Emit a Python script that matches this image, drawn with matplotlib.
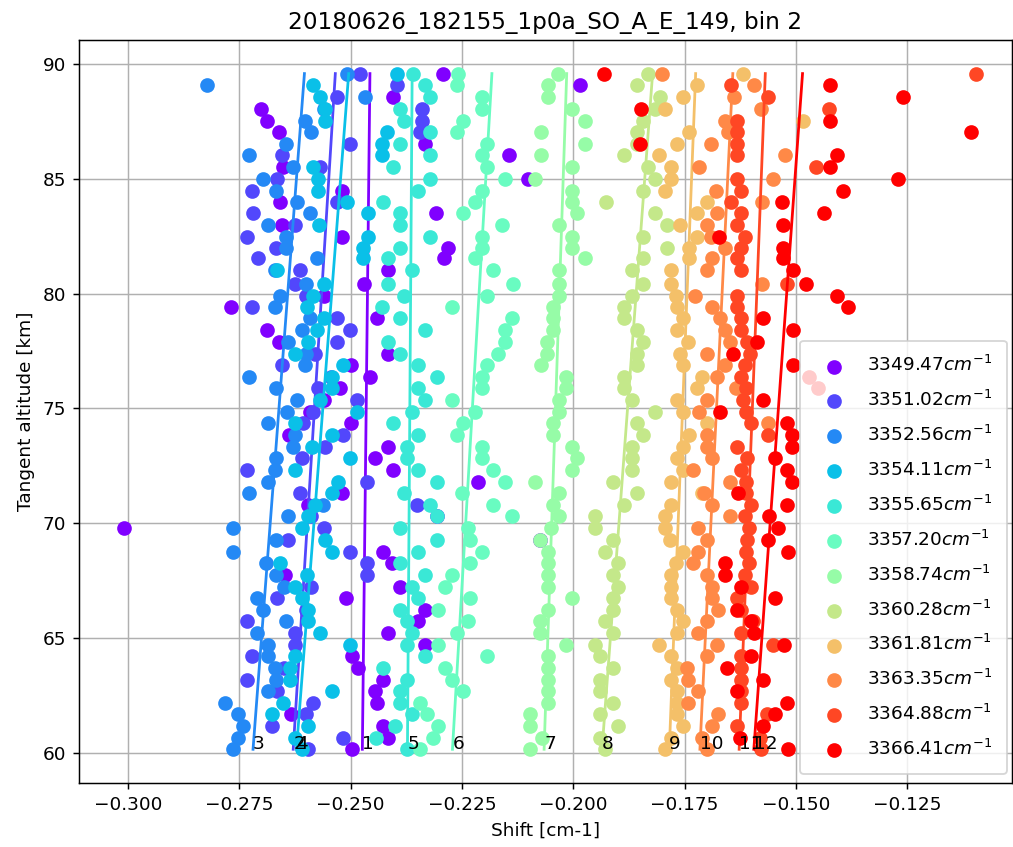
import numpy as np
import matplotlib
matplotlib.use("Agg")
import matplotlib.pyplot as plt

title = "20180626_182155_1p0a_SO_A_E_149, bin 2"

# tangent altitudes [km], shared by every absorption line
altitude = [89.57, 89.07, 88.57, 88.03, 87.52, 87.04, 86.52, 86.01, 85.50, 85.00,
            84.45, 83.98, 83.49, 82.99, 82.48, 81.98, 81.55, 81.02, 80.42, 79.91,
            79.42, 78.92, 78.40, 77.90, 77.39, 76.89, 76.38, 75.88, 75.37, 74.86,
            74.36, 73.85, 73.34, 72.83, 72.33, 71.82, 71.31, 70.80, 70.30, 69.79,
            69.28, 68.77, 68.27, 67.76, 67.25, 66.75, 66.24, 65.73, 65.23, 64.72,
            64.22, 63.71, 63.20, 62.70, 62.19, 61.69, 61.18, 60.68, 60.17]

wavenumbers = [3349.47, 3351.02, 3352.56, 3354.11, 3355.65, 3357.20,
               3358.74, 3360.28, 3361.81, 3363.35, 3364.88, 3366.41]

# fitted line shift [cm-1] per altitude, one list per absorption line
shift_1 = [-0.2293, -0.1985, -0.2405, -0.2701, -0.2688, -0.2661, -0.2333, -0.2144, -0.2652, -0.2102,
           -0.2520, -0.2659, -0.2308, -0.2655, -0.2520, -0.2281, -0.2290, -0.2416, -0.2470, -0.2560,
           -0.2769, -0.2440, -0.2688, -0.2661, -0.2416, -0.2500, -0.2457, -0.2524, -0.2560, -0.2591,
           -0.2500, -0.2638, -0.2416, -0.2445, -0.2405, -0.2214, -0.2519, -0.2596, -0.2306, -0.3010,
           -0.2075, -0.2427, -0.2407, -0.2647, -0.2389, -0.2510, -0.2333, -0.2349, -0.2416, -0.2333,
           -0.2497, -0.2483, -0.2427, -0.2445, -0.2440, -0.2634, -0.2427, -0.2416, -0.2497]
shift_2 = [-0.2480, -0.2395, -0.2531, -0.2340, -0.2340, -0.2345, -0.2501, -0.2654, -0.2569, -0.2665,
           -0.2722, -0.2531, -0.2719, -0.2625, -0.2733, -0.2668, -0.2708, -0.2614, -0.2625, -0.2600,
           -0.2722, -0.2531, -0.2501, -0.2531, -0.2580, -0.2654, -0.2545, -0.2573, -0.2486, -0.2584,
           -0.2607, -0.2517, -0.2557, -0.2610, -0.2733, -0.2463, -0.2614, -0.2351, -0.2590, -0.2560,
           -0.2640, -0.2501, -0.2463, -0.2463, -0.2590, -0.2665, -0.2600, -0.2733, -0.2625, -0.2625,
           -0.2722, -0.2650, -0.2733, -0.2665, -0.2584, -0.2600, -0.2677, -0.2517, -0.2596]
shift_3 = [-0.2508, -0.2823, -0.2468, -0.2560, -0.2602, -0.2590, -0.2645, -0.2728, -0.2629, -0.2697,
           -0.2668, -0.2620, -0.2591, -0.2686, -0.2645, -0.2645, -0.2576, -0.2670, -0.2600, -0.2659,
           -0.2670, -0.2591, -0.2610, -0.2640, -0.2600, -0.2602, -0.2728, -0.2668, -0.2620, -0.2643,
           -0.2686, -0.2625, -0.2629, -0.2668, -0.2670, -0.2686, -0.2728, -0.2562, -0.2640, -0.2764,
           -0.2668, -0.2764, -0.2690, -0.2668, -0.2650, -0.2710, -0.2697, -0.2645, -0.2710, -0.2686,
           -0.2686, -0.2670, -0.2668, -0.2686, -0.2782, -0.2753, -0.2742, -0.2753, -0.2764]
shift_4 = [-0.2395, -0.2585, -0.2569, -0.2557, -0.2557, -0.2418, -0.2430, -0.2430, -0.2585, -0.2573,
           -0.2573, -0.2508, -0.2461, -0.2571, -0.2461, -0.2472, -0.2472, -0.2665, -0.2560, -0.2585,
           -0.2598, -0.2560, -0.2576, -0.2596, -0.2625, -0.2517, -0.2542, -0.2542, -0.2569, -0.2486,
           -0.2625, -0.2542, -0.2587, -0.2501, -0.2625, -0.2528, -0.2542, -0.2580, -0.2596, -0.2609,
           -0.2557, -0.2542, -0.2659, -0.2598, -0.2625, -0.2609, -0.2596, -0.2596, -0.2569, -0.2501,
           -0.2625, -0.2636, -0.2636, -0.2542, -0.2652, -0.2677, -0.2596, -0.2625, -0.2609]
shift_5 = [-0.2360, -0.2333, -0.2322, -0.2390, -0.2380, -0.2322, -0.2389, -0.2322, -0.2405, -0.2322,
           -0.2349, -0.2427, -0.2389, -0.2389, -0.2322, -0.2389, -0.2416, -0.2362, -0.2416, -0.2380,
           -0.2430, -0.2389, -0.2333, -0.2416, -0.2389, -0.2349, -0.2306, -0.2349, -0.2333, -0.2362,
           -0.2405, -0.2349, -0.2373, -0.2373, -0.2349, -0.2306, -0.2380, -0.2322, -0.2306, -0.2389,
           -0.2306, -0.2349, -0.2389, -0.2333, -0.2362, -0.2349, -0.2389, -0.2373, -0.2362, -0.2373,
           -0.2333, -0.2427, -0.2373, -0.2389, -0.2389, -0.2362, -0.2400, -0.2443, -0.2373]
shift_6 = [-0.2259, -0.2261, -0.2205, -0.2205, -0.2248, -0.2261, -0.2194, -0.2205, -0.2194, -0.2153,
           -0.2205, -0.2221, -0.2248, -0.2160, -0.2205, -0.2205, -0.2221, -0.2180, -0.2135, -0.2194,
           -0.2272, -0.2138, -0.2153, -0.2153, -0.2169, -0.2194, -0.2205, -0.2205, -0.2272, -0.2221,
           -0.2248, -0.2261, -0.2205, -0.2205, -0.2180, -0.2153, -0.2250, -0.2180, -0.2138, -0.2236,
           -0.2232, -0.2205, -0.2232, -0.2272, -0.2288, -0.2232, -0.2304, -0.2236, -0.2261, -0.2304,
           -0.2194, -0.2288, -0.2272, -0.2248, -0.2344, -0.2329, -0.2304, -0.2315, -0.2344]
shift_7 = [-0.2034, -0.2057, -0.2057, -0.2003, -0.1974, -0.2073, -0.1974, -0.2073, -0.2003, -0.2086,
           -0.2003, -0.2003, -0.1992, -0.2032, -0.2003, -0.2003, -0.1974, -0.2032, -0.2032, -0.2032,
           -0.2046, -0.2046, -0.2046, -0.2059, -0.2059, -0.2073, -0.2016, -0.2016, -0.2032, -0.2032,
           -0.2046, -0.2046, -0.2003, -0.1992, -0.2003, -0.2086, -0.2032, -0.2046, -0.2032, -0.2050,
           -0.2075, -0.2057, -0.2057, -0.2057, -0.2057, -0.2003, -0.2057, -0.2075, -0.2075, -0.2016,
           -0.2057, -0.2057, -0.2057, -0.2057, -0.2057, -0.2097, -0.2097, -0.2070, -0.2097]
shift_8 = [-0.1832, -0.1857, -0.1805, -0.1816, -0.1843, -0.1857, -0.1857, -0.1886, -0.1832, -0.1816,
           -0.1843, -0.1926, -0.1816, -0.1790, -0.1843, -0.1790, -0.1843, -0.1868, -0.1843, -0.1868,
           -0.1886, -0.1886, -0.1857, -0.1843, -0.1857, -0.1857, -0.1886, -0.1886, -0.1868, -0.1816,
           -0.1857, -0.1843, -0.1868, -0.1868, -0.1868, -0.1911, -0.1857, -0.1886, -0.1951, -0.1951,
           -0.1911, -0.1929, -0.1900, -0.1911, -0.1900, -0.1911, -0.1911, -0.1929, -0.1911, -0.1951,
           -0.1940, -0.1911, -0.1940, -0.1940, -0.1911, -0.1940, -0.1900, -0.1940, -0.1929]
shift_9 = [-0.1620, -0.1722, -0.1754, -0.1794, -0.1484, -0.1740, -0.1767, -0.1808, -0.1781, -0.1781,
           -0.1794, -0.1700, -0.1722, -0.1760, -0.1722, -0.1740, -0.1740, -0.1781, -0.1781, -0.1770,
           -0.1767, -0.1754, -0.1767, -0.1742, -0.1760, -0.1754, -0.1711, -0.1722, -0.1767, -0.1754,
           -0.1700, -0.1740, -0.1754, -0.1767, -0.1754, -0.1781, -0.1711, -0.1781, -0.1794, -0.1794,
           -0.1783, -0.1754, -0.1770, -0.1781, -0.1781, -0.1781, -0.1767, -0.1754, -0.1767, -0.1808,
           -0.1781, -0.1767, -0.1781, -0.1767, -0.1767, -0.1767, -0.1754, -0.1781, -0.1794]
shift_10 = [-0.1801, -0.1594, -0.1640, -0.1578, -0.1660, -0.1653, -0.1690, -0.1525, -0.1718, -0.1552,
            -0.1680, -0.1576, -0.1677, -0.1700, -0.1690, -0.1659, -0.1688, -0.1700, -0.1576, -0.1727,
            -0.1688, -0.1670, -0.1659, -0.1648, -0.1700, -0.1659, -0.1677, -0.1635, -0.1700, -0.1718,
            -0.1563, -0.1700, -0.1700, -0.1688, -0.1731, -0.1648, -0.1707, -0.1688, -0.1648, -0.1720,
            -0.1700, -0.1720, -0.1731, -0.1700, -0.1688, -0.1688, -0.1675, -0.1700, -0.1720, -0.1677,
            -0.1700, -0.1745, -0.1742, -0.1720, -0.1742, -0.1675, -0.1688, -0.1710, -0.1700]
shift_11 = [-0.1096, -0.1646, -0.1563, -0.1426, -0.1632, -0.1632, -0.1632, -0.1632, -0.1455, -0.1632,
            -0.1623, -0.1646, -0.1623, -0.1632, -0.1614, -0.1623, -0.1632, -0.1623, -0.1520, -0.1632,
            -0.1632, -0.1623, -0.1623, -0.1610, -0.1603, -0.1615, -0.1623, -0.1612, -0.1620, -0.1612,
            -0.1600, -0.1563, -0.1632, -0.1610, -0.1623, -0.1612, -0.1612, -0.1600, -0.1615, -0.1605,
            -0.1610, -0.1612, -0.1606, -0.1615, -0.1602, -0.1632, -0.1623, -0.1596, -0.1623, -0.1552,
            -0.1623, -0.1623, -0.1623, -0.1623, -0.1623, -0.1565, -0.1632, -0.1580, -0.1578]
shift_12 = [-0.1931, -0.1424, -0.1260, -0.1848, -0.1424, -0.1107, -0.1850, -0.1408, -0.1424, -0.1271,
            -0.1394, -0.1531, -0.1437, -0.1530, -0.1673, -0.1530, -0.1530, -0.1507, -0.1477, -0.1408,
            -0.1383, -0.1574, -0.1507, -0.1588, -0.1641, -0.1507, -0.1470, -0.1450, -0.1574, -0.1670,
            -0.1520, -0.1510, -0.1510, -0.1547, -0.1520, -0.1510, -0.1630, -0.1520, -0.1560, -0.1540,
            -0.1563, -0.1518, -0.1659, -0.1659, -0.1623, -0.1547, -0.1632, -0.1600, -0.1594, -0.1526,
            -0.1600, -0.1656, -0.1574, -0.1632, -0.1520, -0.1547, -0.1574, -0.1625, -0.1518]

shifts = [shift_1, shift_2, shift_3, shift_4, shift_5, shift_6,
          shift_7, shift_8, shift_9, shift_10, shift_11, shift_12]

dpi = 133
fig = plt.figure(figsize=(1013 / dpi, 847 / dpi), dpi=dpi)
ax = fig.add_axes([0.078, 0.0755, 0.921, 0.8775])

colours = plt.cm.rainbow(np.linspace(0, 1, len(wavenumbers)))
alt = np.array(altitude)

for i, (wn, shift, c) in enumerate(zip(wavenumbers, shifts, colours)):
    shift = np.array(shift)
    ax.scatter(shift, alt, color=c, s=48, label="%.2f$cm^{-1}$" % wn, zorder=2)
    slope, intercept = np.polyfit(alt, shift, 1)
    alt_ends = np.array([alt.max(), alt.min()])
    fit_ends = slope * alt_ends + intercept
    ax.plot(fit_ends, alt_ends, color=c, zorder=2)
    ax.text(fit_ends[1], alt_ends[1], str(i + 1), zorder=3)

ax.set_xlim(-0.311, -0.1015)
ax.set_ylim(58.70, 91.04)
ax.set_xticks([-0.300, -0.275, -0.250, -0.225, -0.200, -0.175, -0.150, -0.125])
ax.set_yticks([60, 65, 70, 75, 80, 85, 90])
ax.grid(True)
ax.set_axisbelow(True)
ax.set_xlabel("Shift [cm-1]")
ax.set_ylabel("Tangent altitude [km]")
ax.set_title(title, fontsize=12.5)
ax.legend(loc="lower right", bbox_to_anchor=(1.0045, 0.0),
          labelspacing=0.8, borderpad=0.8)

fig.savefig("out.png", dpi=dpi)
